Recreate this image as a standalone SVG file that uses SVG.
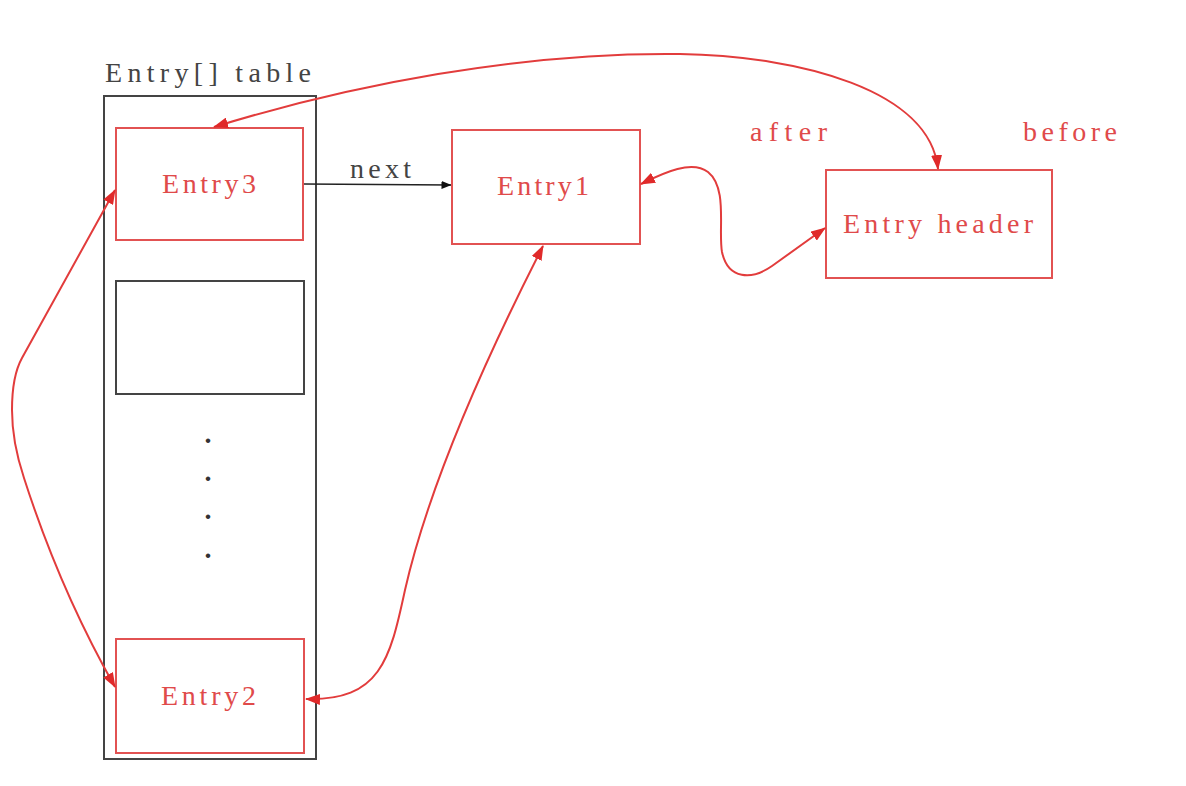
<svg xmlns="http://www.w3.org/2000/svg" width="1186" height="786" viewBox="0 0 1186 786">
<style>
.txt{font-family:"Liberation Serif","DejaVu Serif",serif;font-size:28px}
.red{fill:#e04a4a}
.blk{fill:#444}
.dot{font-weight:bold;fill:#333}
.rbox{fill:#fff;stroke:#e25252;stroke-width:2}
.kbox{fill:none;stroke:#444;stroke-width:2}
.rc{fill:none;stroke:#e23c3c;stroke-width:2}
.kc{fill:none;stroke:#222;stroke-width:1.6}
</style>
<defs>
<marker id="ra" viewBox="0 0 15 11" refX="14" refY="5.5" markerWidth="15" markerHeight="11" markerUnits="userSpaceOnUse" orient="auto-start-reverse">
<path d="M0,0 L15,5.5 L0,11 Z" fill="#e02a2a"/>
</marker>
<marker id="ka" viewBox="0 0 10 8" refX="9.5" refY="4" markerWidth="10" markerHeight="8" markerUnits="userSpaceOnUse" orient="auto">
<path d="M0,0 L10,4 L0,8 Z" fill="#111"/>
</marker>
</defs>
<rect width="1186" height="786" fill="#fff"/>
<g id="table">
<rect class="kbox" x="104" y="96" width="212" height="663"/>
<text class="txt blk" x="105" y="82" textLength="206" lengthAdjust="spacing">Entry[] table</text>
</g>
<g id="entry3">
<rect class="rbox" x="116" y="128" width="187" height="112"/>
<text class="txt red" x="162" y="193" textLength="94" lengthAdjust="spacing">Entry3</text>
</g>
<g id="empty-slot">
<rect class="kbox" x="116" y="281" width="188" height="113" fill="#fff"/>
</g>
<g id="dots">
<text class="txt dot" x="208" y="443" text-anchor="middle">.</text>
<text class="txt dot" x="208" y="481" text-anchor="middle">.</text>
<text class="txt dot" x="208" y="519" text-anchor="middle">.</text>
<text class="txt dot" x="208" y="558" text-anchor="middle">.</text>
</g>
<g id="entry2">
<rect class="rbox" x="116" y="639" width="188" height="114"/>
<text class="txt red" x="161" y="705" textLength="95" lengthAdjust="spacing">Entry2</text>
</g>
<g id="entry1">
<rect class="rbox" x="452" y="130" width="188" height="114"/>
<text class="txt red" x="497" y="195" textLength="92" lengthAdjust="spacing">Entry1</text>
</g>
<g id="header">
<rect class="rbox" x="826" y="170" width="226" height="108"/>
<text class="txt red" x="843" y="233" textLength="190" lengthAdjust="spacing">Entry header</text>
</g>
<g id="connectors">
<path class="kc" d="M304 184 L451 185" marker-end="url(#ka)"/>
<text class="txt blk" x="350" y="178" textLength="61" lengthAdjust="spacing">next</text>
<path class="rc" d="M214 127 C350 85 520 52 680 54 C800 56 930 90 938 169" marker-start="url(#ra)" marker-end="url(#ra)"/>
<path class="rc" d="M641 184 C665 172 692 160 708 172 C728 188 718 230 722 252 C728 280 752 280 772 266 L825 228" marker-start="url(#ra)" marker-end="url(#ra)"/>
<path class="rc" d="M115 190 L22 358 Q12 376 12 410 Q12 442 24 478 Q60 590 115 687" marker-start="url(#ra)" marker-end="url(#ra)"/>
<path class="rc" d="M543 246 C490 350 430 480 405 590 C390 660 380 701 306 699" marker-start="url(#ra)" marker-end="url(#ra)"/>
<text class="txt red" x="750" y="141" textLength="77" lengthAdjust="spacing">after</text>
<text class="txt red" x="1023" y="141" textLength="94" lengthAdjust="spacing">before</text>
</g>
</svg>
